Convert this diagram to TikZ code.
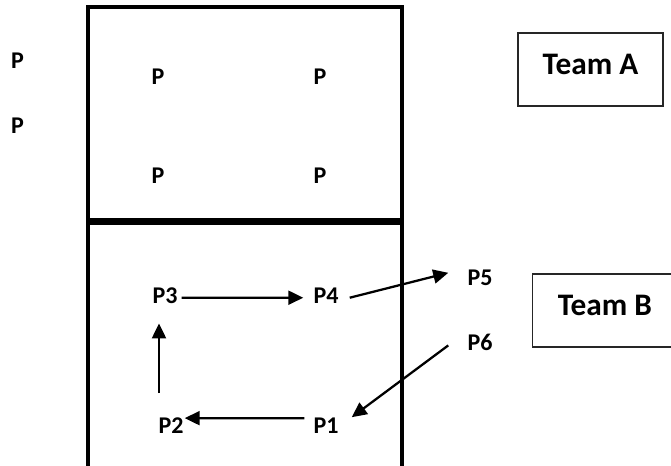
\documentclass[tikz,border=0pt]{standalone}
\usepackage{fontspec}
\setmainfont{Carlito}
\usetikzlibrary{arrows.meta,calc}
\begin{document}
\begin{tikzpicture}[x=0.75pt,y=-0.75pt,
  court/.style={line width=3pt,line join=miter},
  netline/.style={line width=5.25pt},
  plabel/.style={inner sep=0pt,anchor=base,font=\fontsize{18}{21}\selectfont\bfseries},
  teambox/.style={draw=black!85,line width=1.1pt,minimum width=108.75pt,minimum height=54.75pt,
    inner sep=0pt,text height=15.75pt,text depth=9pt,font=\fontsize{23.5}{28}\selectfont\bfseries},
  move/.style={line width=1.7pt,-{Triangle[length=11.25pt,width=10.5pt]}}]
\useasboundingbox (0,0) rectangle (671,465);
% court
\draw[court] (88,466) -- (88,7) -- (402,7) -- (402,466);
\draw[netline] (86,221.5) -- (404,221.5);
% labels
\node[plabel] (l1) at (17.5,68) {P};
\node[plabel] (l2) at (17.5,133) {P};
\node[plabel] (a1) at (158,84) {P};
\node[plabel] (a2) at (320,84) {P};
\node[plabel] (a3) at (158,183) {P};
\node[plabel] (a4) at (320,183) {P};
\node[plabel] (p3) at (165,303) {P3};
\node[plabel] (p4) at (326,303) {P4};
\node[plabel] (p5) at (480,285) {P5};
\node[plabel] (p6) at (480,350) {P6};
\node[plabel] (p2) at (171,433) {P2};
\node[plabel] (p1) at (326,433) {P1};
% team boxes
\node[teambox] (ta) at (590.5,69.5) {Team A};
\node[teambox] (tb) at (605,310.5) {Team B};
% movement arrows
\draw[move] ($(p3.east)+(4,2.5)$) -- ($(p4.west)+(-10,2.5)$);
\draw[move] ($(p4.east)+(11,2.5)$) -- ($(p5.west)+(-19,-4.5)$);
\draw[move] ($(p6.west)+(-19,3.5)$) -- ($(p1.east)+(13,-8)$);
\draw[move] ($(p1.west)+(-9,-7)$) -- ($(p2.east)+(1,-7)$);
\draw[move] ($(p2.north)+(-12,-24)$) -- ($(p3.south)+(-6,20)$);
\end{tikzpicture}
\end{document}
